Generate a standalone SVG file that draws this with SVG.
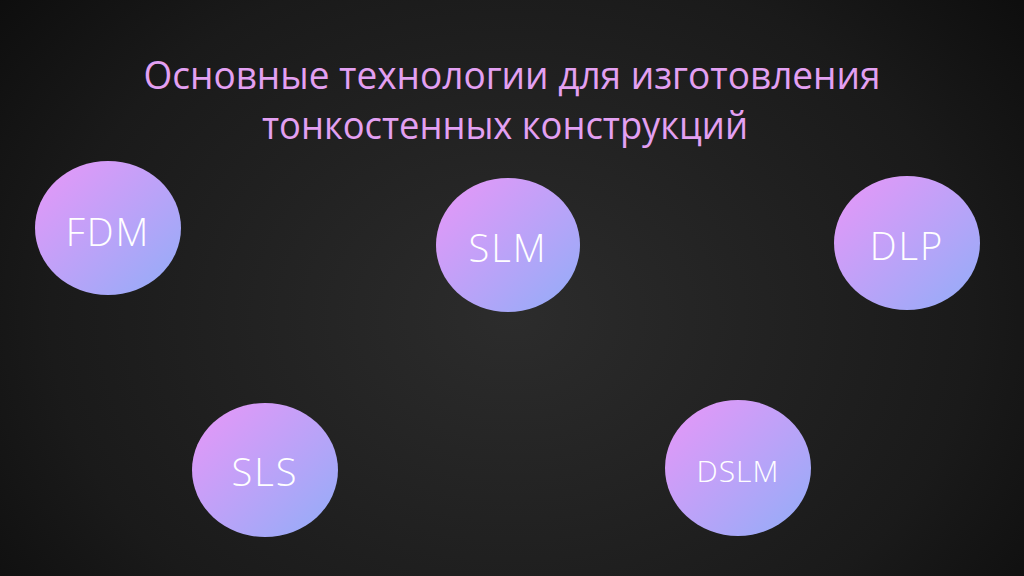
<svg xmlns="http://www.w3.org/2000/svg" width="1024" height="576" viewBox="0 0 1024 576">
<defs>
<radialGradient id="bg" cx="0.5" cy="0.55" r="0.75" gradientTransform="translate(0.5 0.55) scale(1 1.4) translate(-0.5 -0.55)">
<stop offset="0" stop-color="#2c2c2c"/>
<stop offset="0.6" stop-color="#1a1a1a"/>
<stop offset="1" stop-color="#060606"/>
</radialGradient>
<linearGradient id="cg" x1="0.15" y1="0.15" x2="0.85" y2="0.85">
<stop offset="0" stop-color="#dc9af8"/>
<stop offset="1" stop-color="#9eaaf8"/>
</linearGradient>
<style>
.title{font-family:"Open Sans","Noto Sans","DejaVu Sans",sans-serif;font-size:39px;fill:#e3a0f2;text-anchor:middle}
.node ellipse{fill:url(#cg)}
.node text{font-family:"Open Sans","Noto Sans","DejaVu Sans",sans-serif;font-weight:300;fill:#ffffff;text-anchor:middle;font-size:38px;letter-spacing:2px}
</style>
</defs>
<rect width="1024" height="576" fill="url(#bg)"/>
<text class="title" x="512" y="89" textLength="737" lengthAdjust="spacingAndGlyphs">Основные технологии для изготовления</text>
<text class="title" x="505" y="139" textLength="486" lengthAdjust="spacingAndGlyphs">тонкостенных конструкций</text>
<g id="fdm" class="node"><ellipse cx="108" cy="228" rx="73" ry="67"/><text x="108" y="246">FDM</text></g>
<g id="slm" class="node"><ellipse cx="508" cy="245" rx="72" ry="67"/><text x="508" y="262">SLM</text></g>
<g id="dlp" class="node"><ellipse cx="907" cy="243" rx="73" ry="67"/><text x="907" y="260">DLP</text></g>
<g id="sls" class="node"><ellipse cx="265" cy="470" rx="73" ry="67"/><text x="265" y="486">SLS</text></g>
<g id="dslm" class="node"><ellipse cx="738" cy="468" rx="73" ry="68"/><text x="738" y="482" style="font-size:30px;letter-spacing:1px">DSLM</text></g>
<g id="connectors"/>
</svg>
